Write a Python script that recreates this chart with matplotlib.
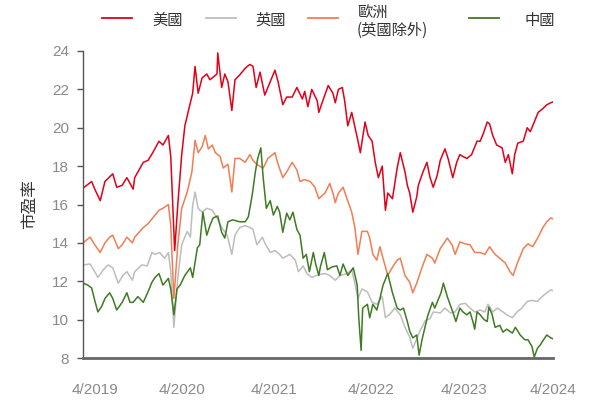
import matplotlib
matplotlib.use("Agg")
import matplotlib.pyplot as plt
from matplotlib.lines import Line2D

plt.rcParams['font.family'] = ['Liberation Sans', 'Noto Sans CJK TC', 'DejaVu Sans']

# x = months since 4/2019, values = forward P/E
us_x = [0.0, 1.1, 1.5, 2.2, 2.8, 3.8, 4.3, 5.0, 5.6, 6.4, 6.6, 7.7, 8.3, 8.9, 9.7, 10.2, 10.9, 11.2, 11.7,
        12.1, 12.6, 13.0, 13.7, 14.0, 14.3, 14.7, 15.2, 15.8, 16.2, 17.1, 17.2, 17.7, 18.1, 18.5, 19.0, 19.4,
        20.0, 20.7, 21.3, 21.7, 22.1, 22.6, 23.2, 23.9, 24.5, 24.9, 25.5, 26.0, 26.7, 27.3, 28.0, 28.3, 28.7,
        29.2, 29.9, 30.1, 30.6, 31.3, 31.9, 32.2, 32.6, 33.1, 33.4, 33.8, 34.3, 35.0, 35.4, 36.0, 36.4, 36.9,
        37.3, 37.7, 38.2, 38.6, 38.9, 39.5, 40.1, 40.5, 41.1, 41.4, 41.7, 42.1, 42.6, 42.8, 43.4, 43.9, 44.3,
        44.7, 45.2, 45.6, 46.2, 46.6, 47.2, 47.7, 48.1, 48.5, 49.0, 49.6, 50.3, 50.7, 51.1, 51.6, 51.9, 52.3,
        52.8, 53.5, 53.9, 54.3, 54.8, 55.1, 55.5, 56.2, 56.7, 57.1, 57.4, 58.1, 58.7, 59.2, 59.7, 60.0]
us_y = [16.85, 17.2, 16.8, 16.2, 17.2, 17.6, 16.9, 17.0, 17.4, 16.8, 17.4, 18.2, 18.3, 18.7, 19.3, 19.1, 19.6,
        18.5, 13.6, 16.0, 18.6, 20.1, 21.3, 21.8, 23.2, 21.8, 22.6, 22.8, 22.5, 22.8, 23.9, 22.1, 22.8, 22.4,
        20.9, 22.5, 22.75, 23.1, 23.3, 23.2, 22.1, 22.9, 21.7, 22.4, 23.0, 22.4, 21.2, 21.6, 21.6, 22.1, 21.5,
        21.9, 21.1, 22.0, 21.4, 20.8, 21.4, 22.2, 21.8, 21.3, 22.0, 22.1, 21.4, 20.1, 20.8, 19.5, 18.7, 20.3,
        19.6, 19.3, 18.2, 17.4, 18.0, 15.7, 16.6, 16.3, 17.9, 18.7, 17.7, 17.0, 16.6, 15.6, 16.4, 17.0, 17.7,
        18.2, 17.4, 16.9, 17.5, 18.3, 18.9, 18.4, 17.4, 18.2, 18.6, 18.5, 18.4, 18.6, 19.3, 19.3, 19.7, 20.3,
        20.2, 19.6, 19.1, 18.95, 18.2, 18.6, 17.6, 18.6, 19.2, 19.3, 20.0, 19.8, 20.1, 20.8, 21.0, 21.2, 21.3,
        21.35]

uk_x = [0.0, 0.9, 1.5, 1.9, 2.6, 3.2, 3.8, 4.5, 5.1, 5.6, 6.3, 6.6, 7.5, 8.2, 8.8, 9.2, 9.8, 10.4, 10.9, 11.2,
        11.6, 12.1, 12.6, 13.3, 13.7, 14.0, 14.3, 14.7, 15.2, 15.8, 16.5, 17.1, 17.7, 18.4, 19.0, 19.4, 20.0,
        20.7, 21.3, 21.7, 22.2, 22.9, 23.2, 23.9, 24.5, 25.1, 25.5, 26.4, 27.1, 27.5, 28.1, 28.6, 29.2, 30.1,
        30.9, 31.5, 32.2, 32.8, 33.7, 34.3, 34.7, 35.1, 35.6, 36.3, 36.9, 37.5, 38.2, 38.6, 39.2, 39.8, 40.5,
        41.1, 41.7, 42.1, 42.6, 43.0, 43.7, 44.3, 44.7, 45.6, 46.2, 46.9, 47.5, 48.1, 48.8, 49.4, 50.0, 50.7,
        51.3, 51.7, 52.3, 52.9, 53.6, 54.1, 54.8, 55.4, 56.0, 56.7, 57.3, 58.0, 58.6, 59.2, 59.7, 60.0]
uk_y = [12.85, 12.9, 12.5, 12.2, 12.6, 12.85, 12.7, 11.9, 12.3, 12.5, 12.05, 12.5, 12.85, 12.8, 13.5, 13.4,
        13.5, 13.2, 13.5, 12.5, 9.6, 12.2, 13.9, 14.6, 14.3, 15.95, 16.65, 15.8, 15.6, 15.8, 15.7, 15.3, 14.8,
        14.4, 13.4, 14.4, 14.8, 14.9, 14.8, 14.7, 13.9, 14.3, 14.0, 13.5, 13.6, 13.4, 13.2, 13.4, 13.1, 12.5,
        12.8, 12.4, 12.2, 12.35, 12.4, 12.3, 12.05, 12.3, 12.4, 12.6, 11.9, 11.1, 11.6, 11.45, 10.9, 10.8,
        11.2, 10.1, 10.3, 10.6, 10.25, 9.6, 9.1, 8.5, 9.0, 9.4, 9.95, 10.05, 10.4, 10.35, 10.6, 10.35, 10.4,
        10.8, 10.85, 10.6, 10.4, 10.5, 10.4, 10.8, 10.4, 10.6, 10.4, 10.25, 10.1, 10.4, 10.6, 10.95, 11.0,
        10.95, 11.2, 11.4, 11.55, 11.5]

eu_x = [0.0, 0.9, 1.5, 2.2, 2.8, 3.4, 3.8, 4.5, 5.0, 5.6, 6.3, 6.6, 7.7, 8.3, 8.9, 9.7, 10.2, 10.9, 11.2, 11.6,
        12.1, 12.6, 13.3, 13.9, 14.3, 14.7, 15.2, 15.6, 16.0, 16.5, 16.9, 17.5, 17.9, 18.5, 19.0, 19.4, 20.0,
        20.7, 21.3, 21.7, 22.3, 23.0, 23.6, 24.5, 24.9, 25.5, 26.0, 26.7, 27.3, 27.7, 28.3, 29.0, 29.6, 30.1,
        30.9, 31.5, 31.9, 32.2, 32.6, 33.2, 33.7, 34.3, 34.7, 35.1, 35.6, 36.3, 36.6, 37.0, 37.5, 37.9, 38.6,
        38.9, 39.6, 40.1, 40.5, 41.1, 41.7, 42.1, 42.6, 43.3, 43.9, 44.6, 44.9, 45.6, 46.5, 47.1, 47.5, 48.1,
        48.8, 49.4, 50.0, 50.7, 51.3, 51.9, 52.6, 53.2, 53.9, 54.5, 54.9, 55.4, 56.2, 56.8, 57.4, 58.1, 58.7,
        59.2, 59.7, 60.0]
eu_y = [14.0, 14.3, 13.9, 13.5, 14.0, 14.3, 14.4, 13.7, 13.9, 14.3, 14.0, 14.3, 14.8, 15.0, 15.3, 15.7, 15.8,
        16.0, 14.9, 11.1, 13.9, 15.8, 16.65, 17.7, 19.35, 18.7, 19.0, 19.6, 18.9, 19.1, 18.7, 18.5, 17.9, 18.1,
        16.65, 18.4, 18.4, 18.2, 18.6, 18.3, 18.05, 17.9, 18.4, 18.7, 18.1, 17.4, 17.7, 18.2, 17.8, 17.2, 17.3,
        17.2, 16.9, 16.3, 16.6, 17.1, 16.6, 16.1, 16.6, 16.9, 16.3, 15.6, 14.8, 13.4, 14.6, 14.6, 14.25, 13.4,
        13.1, 13.8, 12.75, 12.3, 12.8, 13.1, 13.2, 12.3, 11.95, 11.4, 11.9, 12.75, 13.4, 13.2, 12.95, 13.7,
        14.25, 13.9, 13.4, 14.05, 13.95, 13.9, 13.5, 13.5, 13.4, 13.8, 13.4, 13.2, 12.95, 12.5, 12.3, 12.9,
        13.7, 13.95, 13.8, 14.3, 14.8, 15.1, 15.3, 15.25]

cn_x = [0.0, 0.6, 1.1, 1.5, 1.9, 2.4, 2.8, 3.4, 3.8, 4.3, 5.0, 5.6, 6.0, 6.4, 7.0, 7.7, 8.3, 8.8, 9.2, 9.7,
        10.2, 10.9, 11.2, 11.6, 12.0, 12.4, 13.0, 13.7, 14.0, 14.6, 14.9, 15.3, 15.8, 16.2, 16.6, 17.2, 17.7,
        18.1, 18.5, 19.1, 20.0, 20.7, 21.1, 21.6, 22.0, 22.3, 22.7, 23.0, 23.4, 23.9, 24.3, 24.8, 25.1, 25.5,
        26.0, 26.4, 26.8, 27.3, 27.7, 28.1, 28.5, 28.9, 29.4, 29.7, 30.1, 30.3, 30.8, 31.2, 31.8, 32.4, 32.8,
        33.2, 33.8, 34.5, 35.0, 35.2, 35.5, 35.7, 36.3, 36.6, 37.0, 37.5, 37.9, 38.3, 38.9, 39.5, 40.1, 40.5,
        40.9, 41.4, 41.7, 42.1, 42.6, 42.9, 43.3, 43.7, 44.0, 44.6, 44.9, 45.4, 45.7, 46.0, 46.5, 46.9, 47.2,
        47.6, 48.1, 48.5, 49.0, 49.4, 49.8, 50.0, 50.3, 50.7, 51.2, 51.6, 51.8, 52.2, 52.6, 53.2, 53.6, 54.1,
        54.8, 55.2, 55.8, 56.4, 56.8, 57.3, 57.6, 58.0, 58.4, 58.7, 59.2, 59.7, 60.0]
cn_y = [11.9, 11.8, 11.65, 11.0, 10.4, 10.7, 11.1, 11.4, 11.1, 10.5, 10.9, 11.4, 10.9, 10.9, 11.2, 10.9,
        11.45, 11.95, 12.2, 12.4, 11.8, 12.15, 11.6, 10.25, 11.6, 11.8, 12.3, 12.7, 12.2, 13.75, 13.9, 15.6,
        14.4, 14.9, 15.3, 15.4, 14.55, 14.25, 15.1, 15.2, 15.1, 15.1, 15.35, 16.5, 17.7, 18.4, 18.95, 17.4,
        15.8, 16.2, 15.45, 15.9, 15.6, 14.55, 15.55, 15.2, 15.6, 14.7, 14.4, 13.2, 13.4, 12.5, 13.5, 12.9,
        12.3, 12.75, 13.5, 12.6, 12.75, 12.8, 12.3, 12.9, 12.3, 12.7, 11.8, 10.1, 8.4, 10.6, 10.8, 10.1, 10.8,
        10.5, 11.1, 11.8, 12.4, 11.4, 10.6, 10.5, 10.6, 9.9, 9.4, 9.05, 9.2, 8.15, 9.0, 9.7, 10.2, 10.9, 10.6,
        11.1, 11.4, 11.9, 11.2, 10.75, 10.4, 9.9, 10.6, 10.4, 10.25, 10.4, 9.85, 9.5, 10.4, 10.25, 10.0, 9.9,
        10.65, 10.3, 9.6, 9.7, 9.35, 9.5, 9.3, 9.6, 9.2, 8.95, 8.95, 8.6, 8.05, 8.5, 8.7, 8.9, 9.2, 9.05, 9.0]

series_names = ['美國', '英國', '歐洲\n(英國除外)', '中國']
series_colors = ['#e2001a', '#bdbdbd', '#f27d52', '#3f7a24']

x_tick_pos = [1.5, 12.6, 24.4, 36.8, 48.6, 60.0]
x_tick_labels = ['4/2019', '4/2020', '4/2021', '4/2022', '4/2023', '4/2024']
y_ticks = [8, 10, 12, 14, 16, 18, 20, 22, 24]

fig = plt.figure(figsize=(5.95, 4.0), dpi=100)
ax = fig.add_axes([0.1395, 0.105, 0.790, 0.7675])

data = [(us_x, us_y), (uk_x, uk_y), (eu_x, eu_y), (cn_x, cn_y)]
for (xs, ys), c in zip(data, series_colors):
    ax.plot(xs, ys, color=c, lw=1.1)

ax.set_xlim(0, 60)
ax.set_ylim(8, 24)
ax.set_yticks(y_ticks)
ax.set_xticks(x_tick_pos)
ax.set_xticklabels(x_tick_labels)

for s in ['top', 'right']:
    ax.spines[s].set_visible(False)
ax.spines['left'].set_color('#555555')
ax.spines['left'].set_linewidth(1.0)
ax.spines['bottom'].set_color('#666666')
ax.spines['bottom'].set_linewidth(2.0)

ax.tick_params(axis='y', length=4.5, width=1.0, color='#555555', pad=5.5,
               labelsize=11, labelcolor='#8a8a8a')
ax.tick_params(axis='x', length=0, pad=18, labelsize=11, labelcolor='#8a8a8a')

ax.set_ylabel('市盈率', fontsize=12, color='#333333', family=['Noto Sans CJK TC'], labelpad=10)

# legend drawn by hand so every line sits at the same height
leg_y = 1 - 18 / 400
line_x = [102, 206, 308, 469]
text_x = [152, 255, 357, 525]
for name, c, lx, tx in zip(series_names, series_colors, line_x, text_x):
    fig.add_artist(Line2D([lx / 595, (lx + 30) / 595], [leg_y, leg_y], color=c, lw=1.3,
                          transform=fig.transFigure))
    if '\n' in name:
        fig.text(tx / 595, 1 - 4 / 400, name, fontsize=11, color='#333333', va='top', ha='left',
                 family=['Noto Sans CJK TC'], linespacing=1.1)
    else:
        fig.text(tx / 595, 1 - 20 / 400, name, fontsize=11, color='#333333', va='center', ha='left',
                 family=['Noto Sans CJK TC'])

fig.savefig('out.png', dpi=100)
